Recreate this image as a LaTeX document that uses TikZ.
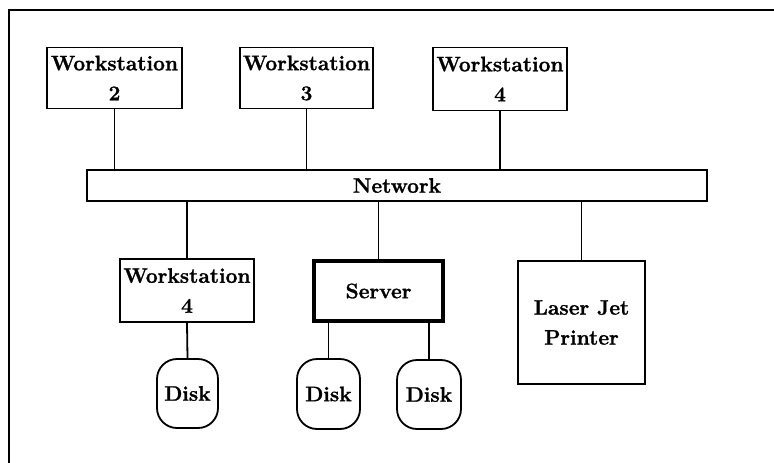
\documentclass[tikz,border=0pt]{standalone}
\usepackage{fontspec}
\setmainfont{Latin Modern Roman}[BoldFeatures={FakeBold=1.2}]
\begin{document}
\begin{tikzpicture}[x=1pt,y=-1pt,
  every node/.style={font=\fontsize{21}{30}\selectfont\bfseries, align=center, inner sep=0pt},
  box/.style={draw, line width=1.8pt, rectangle},
  thickbox/.style={draw, line width=4pt, rectangle},
  disk/.style={draw, line width=1.8pt, rectangle, rounded corners=20pt},
  link/.style={line width=1.8pt}]
\useasboundingbox (0,0) rectangle (774,463);
% frame
\draw[line width=1.8pt] (9,463) -- (9,10) -- (774,10);
% upper workstations
\node[box, minimum width=135pt, minimum height=61pt] (ws2) at (114.5,78) {Workstation\\2};
\node[box, minimum width=133pt, minimum height=61pt] (ws3) at (306.5,78) {Workstation\\3};
\node[box, minimum width=134pt, minimum height=63pt] (ws4a) at (500,79) {Workstation\\4};
% network bus
\node[box, minimum width=620pt, minimum height=31pt] (net) at (397,185.5) {Network};
% lower row
\node[box, minimum width=134pt, minimum height=63pt] (ws4b) at (187,290.5) {Workstation\\4};
\node[thickbox, minimum width=129pt, minimum height=60pt] (server) at (378.5,291) {Server};
\node[box, minimum width=127pt, minimum height=123pt] (printer) at (581.5,322.5) {Laser Jet\\Printer};
% disks
\node[disk, minimum width=61pt, minimum height=69pt] (disk1) at (187.5,393.5) {Disk};
\node[disk, minimum width=63pt, minimum height=70pt] (disk2) at (328.5,394) {Disk};
\node[disk, minimum width=64pt, minimum height=69pt] (disk3) at (429,394.5) {Disk};
% connections
\draw[link] (ws2.south) -- (ws2.south |- net.north);
\draw[link] (ws3.south) -- (ws3.south |- net.north);
\draw[link] (ws4a.south) -- (ws4a.south |- net.north);
\draw[link] (ws4b.north) -- (ws4b.north |- net.south);
\draw[link] (server.north) -- (server.north |- net.south);
\draw[link] (printer.north) -- (printer.north |- net.south);
\draw[link] (disk1.north) -- (ws4b.south);
\draw[link] (disk2.north) -- (disk2.north |- server.south);
\draw[link] (disk3.north) -- (disk3.north |- server.south);
\end{tikzpicture}
\end{document}
